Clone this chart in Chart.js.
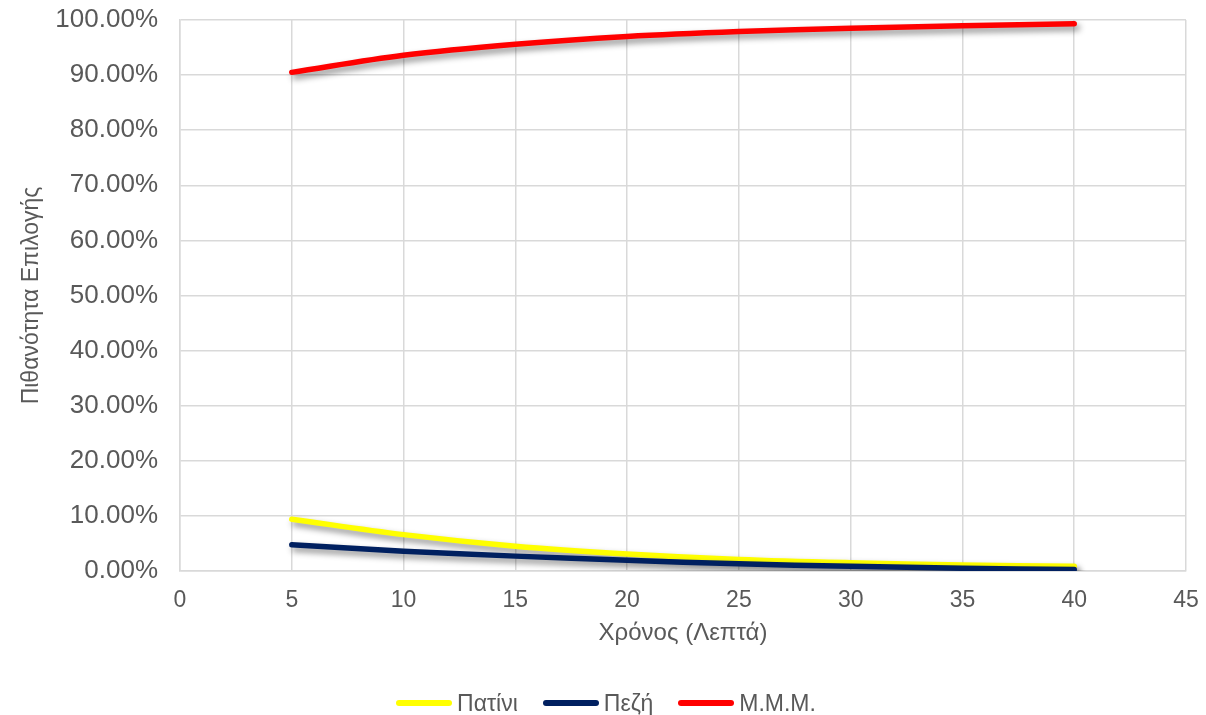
<!DOCTYPE html>
<html>
<head>
<meta charset="utf-8">
<script src="https://cdn.jsdelivr.net/npm/chart.js@4.4.1/dist/chart.umd.min.js"></script>
<style>
  html, body { margin: 0; padding: 0; background: #fff; }
  #wrap { position: relative; width: 1206px; height: 715px; }
  #legend {
    position: absolute; left: 6px; right: 0; top: 689px; height: 28px;
    display: flex; justify-content: center; align-items: center;
    font-family: "Liberation Sans", Arial, sans-serif; font-size: 23px; color: #595959;
  }
  .item { display: flex; align-items: center; margin: 0 12.5px; }
  .swatch { width: 56px; height: 6px; border-radius: 3px; margin-right: 5px; }
</style>
</head>
<body>
<div id="wrap">
  <canvas id="c" width="1206" height="715"></canvas>
  <div id="legend"></div>
</div>
<script>
// Time in minutes
const minutes = [5, 10, 15, 20, 25, 30, 35, 40];
// Choice probability per mode, in percent
const scooter = [9.4, 6.6, 4.5, 3.1, 2.1, 1.5, 1.1, 0.85];
const walking = [4.75, 3.6, 2.7, 1.95, 1.3, 0.85, 0.5, 0.25];
const transit = [90.5, 93.6, 95.6, 97.0, 97.9, 98.5, 98.95, 99.3];

const seriesNames = ['Πατίνι', 'Πεζή', 'Μ.Μ.Μ.'];
const seriesColors = ['#FFFF00', '#002060', '#FF0000'];
const seriesValues = [scooter, walking, transit];

const xTitle = 'Χρόνος (Λεπτά)';
const yTitle = 'Πιθανότητα Επιλογής';

const FONT = '"Liberation Sans", Arial, sans-serif';
const TEXT = '#595959';
const GRID = '#d9d9d9';

const datasets = seriesValues.map((vals, i) => ({
  label: seriesNames[i],
  data: vals.map((v, k) => ({ x: minutes[k], y: v })),
  borderColor: seriesColors[i],
  backgroundColor: seriesColors[i],
  borderWidth: 5.5,
  borderCapStyle: 'round',
  borderJoinStyle: 'round',
  pointRadius: 0,
  pointHoverRadius: 0,
  tension: 0.35,
  order: seriesNames.length - i
}));

// Soft drop shadow under each line
const lineShadow = {
  id: 'lineShadow',
  beforeDatasetDraw(chart) {
    const ctx = chart.ctx;
    ctx.save();
    ctx.shadowColor = 'rgba(0,0,0,0.45)';
    ctx.shadowBlur = 6;
    ctx.shadowOffsetX = 3;
    ctx.shadowOffsetY = 4;
  },
  afterDatasetDraw(chart) {
    chart.ctx.restore();
  }
};

new Chart(document.getElementById('c'), {
  type: 'line',
  data: { datasets },
  plugins: [lineShadow],
  options: {
    responsive: false,
    animation: false,
    layout: { padding: { left: 10, right: 20, top: 20, bottom: 55 } },
    plugins: { legend: { display: false }, tooltip: { enabled: false } },
    scales: {
      x: {
        type: 'linear', min: 0, max: 45,
        ticks: { stepSize: 5, color: TEXT, font: { family: FONT, size: 23 }, padding: 16 },
        grid: { color: GRID, lineWidth: 1.5, drawTicks: false },
        border: { color: GRID, width: 1.5 },
        title: { display: true, text: xTitle, color: TEXT, font: { family: FONT, size: 24 }, padding: { top: 0, bottom: 12 } },
        afterFit(scale) {
          scale.height = 89;
          scale.paddingLeft = 0;
          scale.paddingRight = 0;
        }
      },
      y: {
        min: 0, max: 100,
        ticks: { stepSize: 10, color: TEXT, font: { family: FONT, size: 26 }, padding: 22,
                 callback: v => v.toFixed(2) + '%' },
        grid: { color: GRID, lineWidth: 1.5, drawTicks: false },
        border: { color: GRID, width: 1.5 },
        title: { display: true, text: yTitle, color: TEXT, font: { family: FONT, size: 23 }, padding: { top: 8, bottom: 0 } },
        afterFit(scale) {
          scale.width = 170;
          scale.paddingTop = 0;
          scale.paddingBottom = 0;
        }
      }
    }
  }
});

// Legend row under the chart
const legend = document.getElementById('legend');
seriesNames.forEach((name, i) => {
  const item = document.createElement('div');
  item.className = 'item';
  const sw = document.createElement('span');
  sw.className = 'swatch';
  sw.style.background = seriesColors[i];
  const label = document.createElement('span');
  label.textContent = name;
  item.appendChild(sw);
  item.appendChild(label);
  legend.appendChild(item);
});
</script>
</body>
</html>
